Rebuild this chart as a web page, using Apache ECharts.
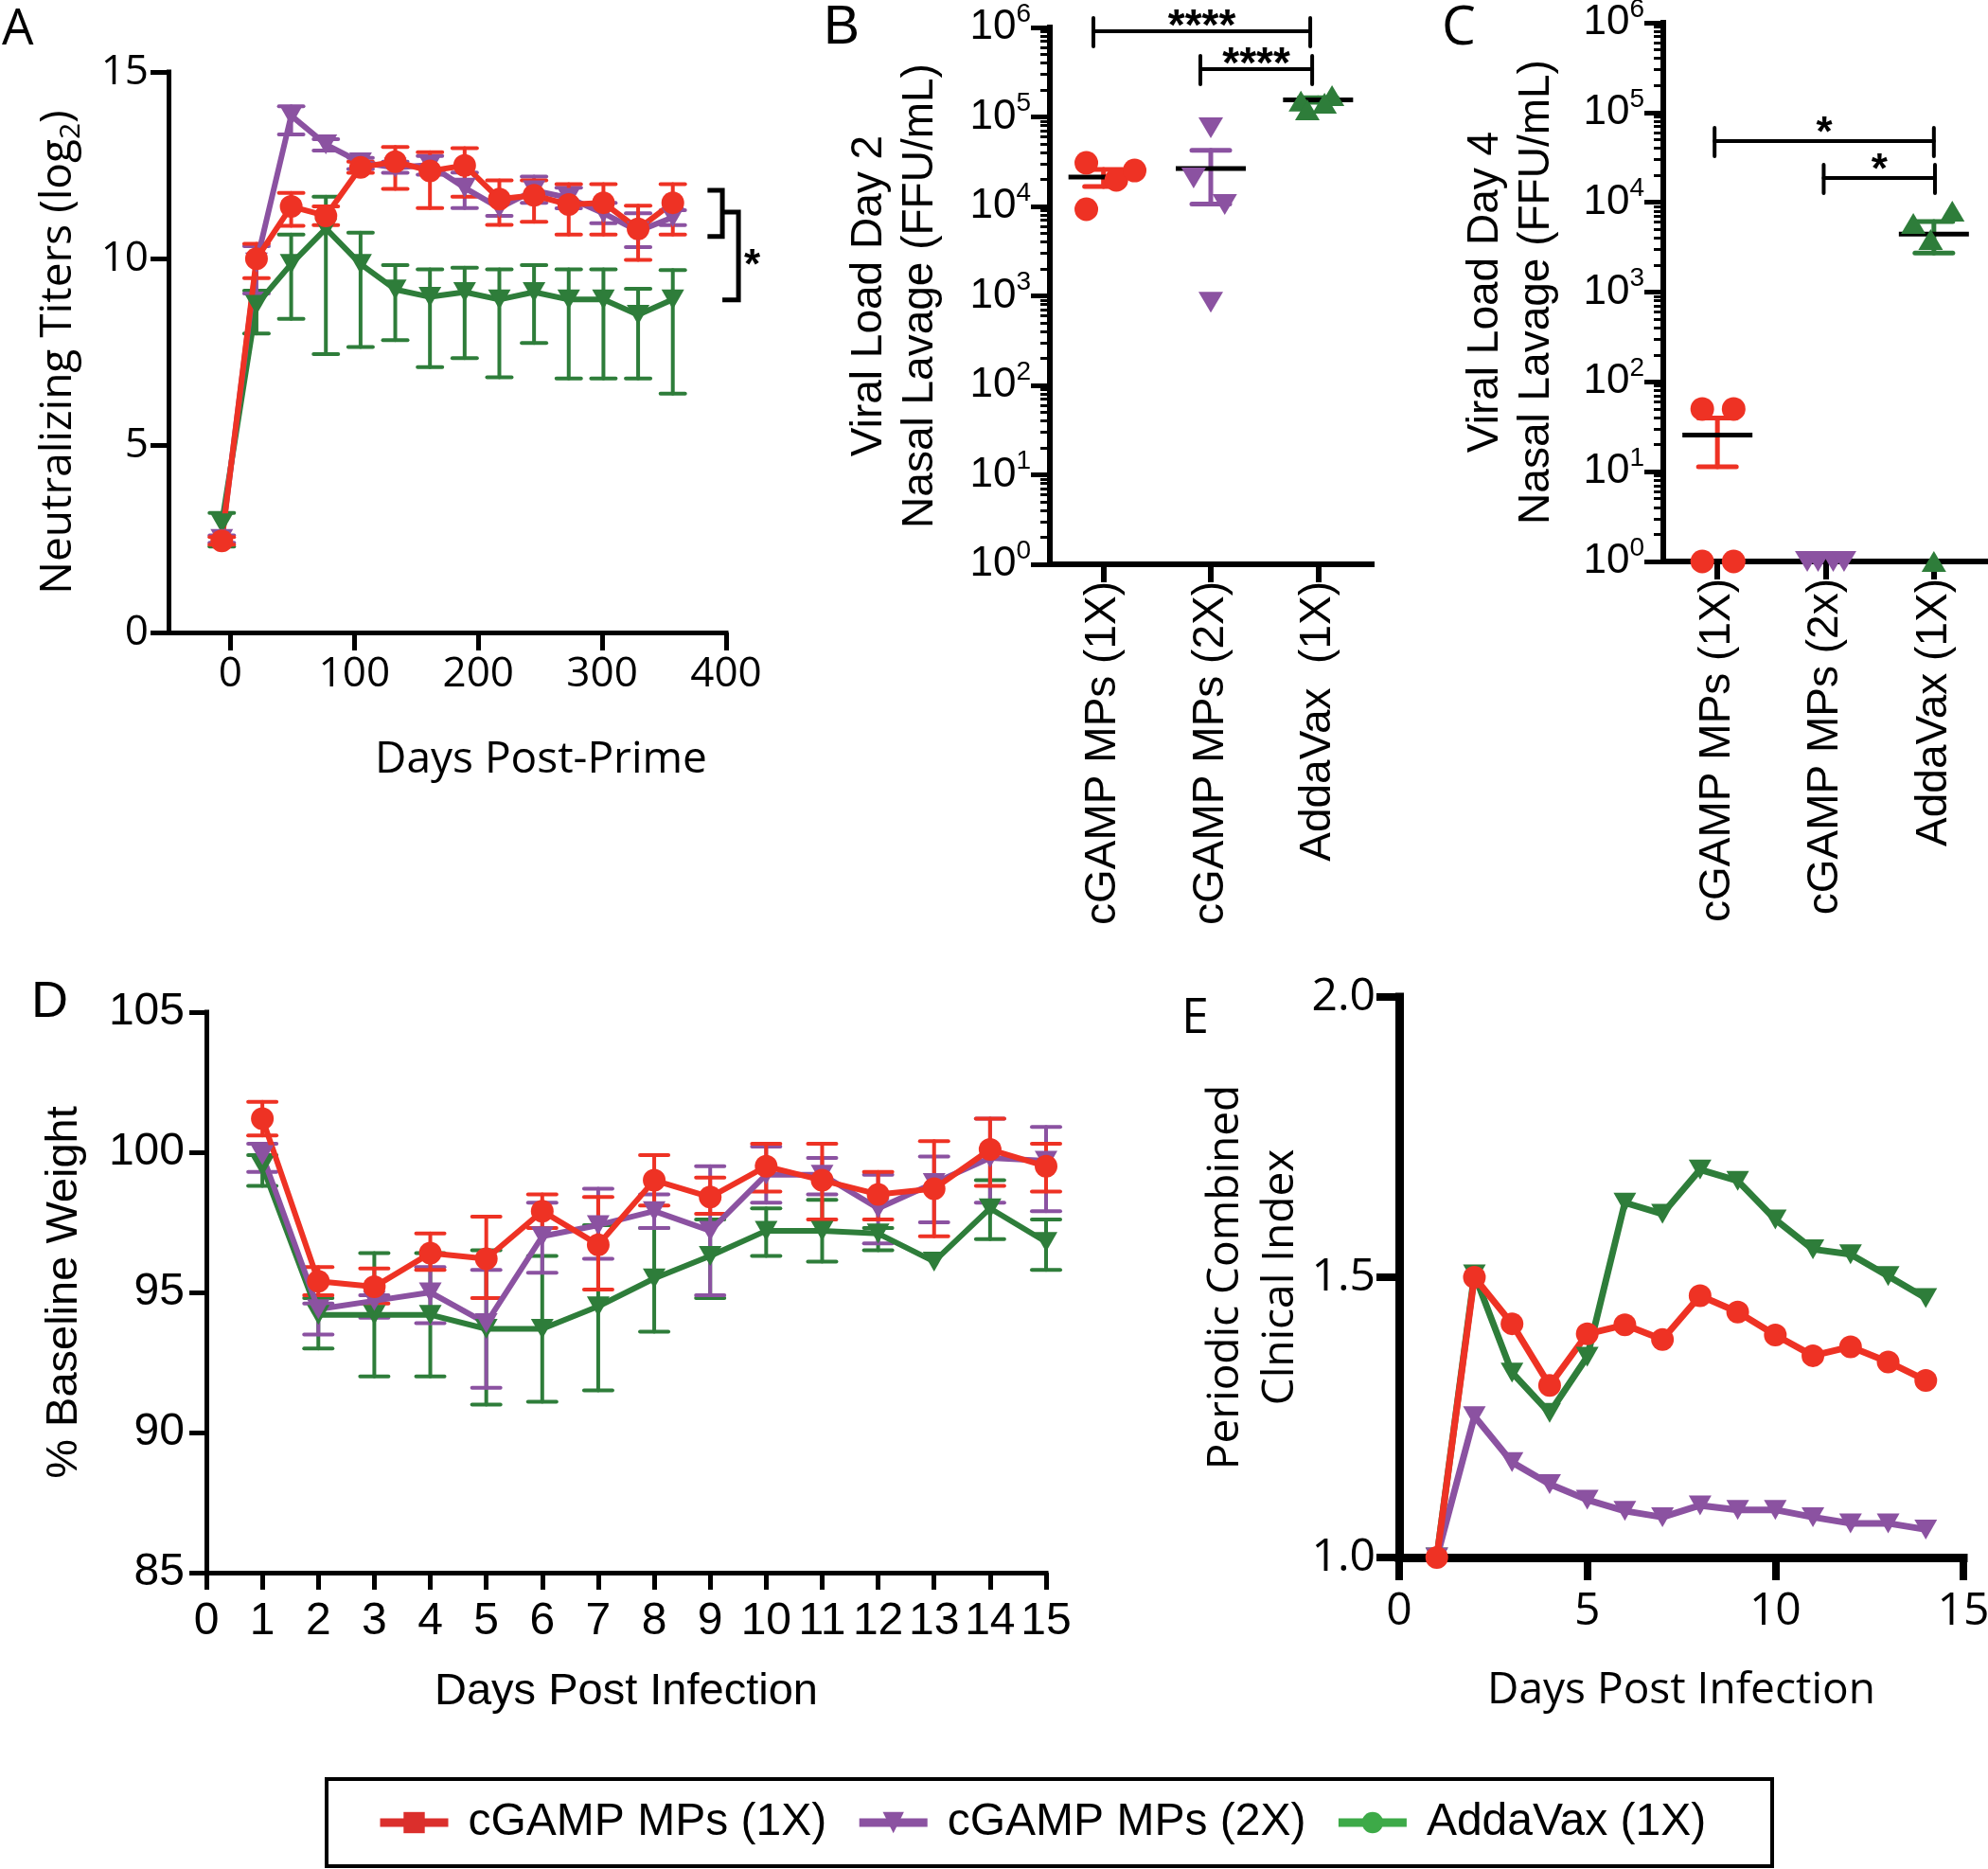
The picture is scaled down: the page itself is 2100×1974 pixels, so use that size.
<!DOCTYPE html>
<html>
<head>
<meta charset="utf-8">
<script src="https://cdn.jsdelivr.net/npm/echarts@6/dist/echarts.min.js"></script>
<style>
html, body { margin: 0; padding: 0; background: #fff; }
#chart { width: 2100px; height: 1974px; }
</style>
</head>
<body>
<div id="chart"></div>
<script>
// groups / categories
const groups = ['cGAMP MPs (1X)', 'cGAMP MPs (2X)', 'AddaVax (1X)']
const catsB = ['cGAMP MPs (1X)', 'cGAMP MPs (2X)', 'AddaVax  (1X)']
const catsC = ['cGAMP MPs (1X)', 'cGAMP MPs (2x)', 'AddaVax (1X)']

// A - neutralizing titers (log2)
const daysA = [-7, 21, 49, 77, 105, 133, 161, 189, 217, 245, 273, 301, 329, 357]
const ticksA = [0, 100, 200, 300, 400]
const titer1X = [2.45, 10.0, 11.4, 11.15, 12.45, 12.6, 12.35, 12.5, 11.6, 11.7, 11.45, 11.5, 10.8, 11.5]
const titer1XHi = [2.55, 10.4, 11.76, 11.4, 12.6, 12.99, 12.85, 12.96, 12.1, 12.1, 12.0, 12.0, 11.42, 12.0]
const titer1XLo = [2.35, 9.48, 10.88, 10.9, 12.3, 11.87, 11.36, 11.66, 10.91, 10.99, 10.65, 10.65, 9.97, 10.65]
const titer2X = [2.5, 9.9, 13.83, 13.06, 12.58, 12.44, 12.51, 11.9, 11.36, 11.83, 11.63, 11.22, 10.74, 11.11]
const titer2XHi = [2.6, 10.34, 14.08, 13.2, 12.7, 12.6, 12.75, 12.31, 11.55, 12.2, 11.9, 11.5, 11.22, 11.3]
const titer2XLo = [2.4, 9.07, 13.33, 12.9, 12.4, 12.3, 12.25, 11.36, 11.15, 11.5, 11.35, 10.95, 10.31, 10.9]
const titerAV = [2.92, 8.77, 9.86, 10.81, 9.86, 9.18, 8.98, 9.11, 8.91, 9.11, 8.91, 8.91, 8.5, 8.91]
const titerAVHi = [3.2, 9.15, 10.65, 11.66, 10.7, 9.83, 9.72, 9.76, 9.72, 9.83, 9.72, 9.72, 9.2, 9.7]
const titerAVLo = [2.3, 8.0, 8.39, 7.45, 7.64, 7.82, 7.1, 7.34, 6.83, 7.75, 6.8, 6.8, 6.8, 6.39]
const bracketA = [[385, 397, 11.83, 10.6], [397, 410, 11.25, 8.9]]
const starA = [[421, 9.99]]

// B - viral load day 2
const loadB1X = [30700, 9300, 19800, 25200]
const jitB1X = [-0.16, -0.16, 0.12, 0.29]
const loadB2X = [75500, 20800, 10500, 850]
const jitB2X = [0, -0.16, 0.13, 0]
const loadBAV = [150000, 173000, 120000, 142000]
const jitBAV = [-0.16, 0.13, -0.1, 0.06]
const meanB = [21250, 26500, 155000]
const semB = [4560, 15900, 9000]
const sigB = [[0.906, 2.927, 907000], [1.903, 2.945, 342000]]
const sigBText = ['****', '****']

// C - viral load day 4
const loadC1X = [50, 50, 1, 1]
const jitC1X = [-0.14, 0.15, -0.14, 0.15]
const loadC2X = [1, 1, 1, 1]
const jitC2X = [-0.17, -0.07, 0.07, 0.17]
const loadCAV = [5820, 7980, 3850, 1]
const jitCAV = [-0.19, 0.17, -0.03, 0]
const meanC = [25.5, 1, 4413]
const semC = [14.15, 0, 1695]
const sigC = [[0.974, 3.0, 48100], [1.982, 3.01, 18660]]
const sigCText = ['*', '*']

// D - % baseline weight
const daysD = [1, 2, 3, 4, 5, 6, 7, 8, 9, 10, 11, 12, 13, 14, 15]
const weight1X = [101.2, 95.4, 95.2, 96.4, 96.2, 97.9, 96.7, 99.0, 98.4, 99.5, 99.0, 98.5, 98.7, 100.1, 99.5]
const weight1XHi = [101.8, 95.9, 95.85, 97.1, 97.7, 98.5, 98.4, 99.9, 99.1, 100.3, 100.3, 99.3, 100.4, 101.2, 100.3]
const weight1XLo = [100.6, 94.9, 94.6, 95.8, 94.8, 97.3, 95.1, 98.1, 97.8, 98.6, 97.6, 97.6, 97.0, 98.8, 98.6]
const weight2X = [99.9, 94.4, 94.7, 95.0, 93.9, 97.0, 97.4, 97.9, 97.2, 99.2, 99.2, 98.0, 98.9, 99.8, 99.7]
const weight2XHi = [100.3, 94.6, 94.9, 95.9, 95.8, 98.2, 98.7, 98.5, 99.5, 100.2, 99.8, 99.2, 99.85, 101.2, 100.9]
const weight2XLo = [99.3, 93.5, 94.1, 93.9, 91.6, 95.7, 96.2, 97.3, 94.9, 98.2, 98.5, 96.75, 97.5, 98.2, 97.9]
const weightAV = [99.5, 94.2, 94.2, 94.2, 93.7, 93.7, 94.5, 95.5, 96.3, 97.2, 97.2, 97.1, 96.1, 98.0, 96.8]
const weightAVHi = [99.9, 94.8, 96.4, 96.4, 96.5, 96.3, 97.4, 97.3, 97.6, 98.0, 98.3, 97.3, 96.1, 99.0, 97.6]
const weightAVLo = [98.8, 93.0, 92.0, 92.0, 91.0, 91.1, 91.5, 93.6, 94.8, 96.3, 96.1, 96.5, 96.1, 96.9, 95.8]

// E - periodic combined clinical index
const daysE = [1, 2, 3, 4, 5, 6, 7, 8, 9, 10, 11, 12, 13, 14]
const index1X = [1.0, 1.5, 1.417, 1.307, 1.399, 1.415, 1.389, 1.467, 1.438, 1.397, 1.36, 1.376, 1.349, 1.316]
const index2X = [1.0, 1.252, 1.17, 1.131, 1.103, 1.083, 1.072, 1.093, 1.085, 1.085, 1.072, 1.061, 1.061, 1.05]
const indexAV = [1.0, 1.505, 1.33, 1.258, 1.358, 1.633, 1.613, 1.692, 1.672, 1.603, 1.55, 1.541, 1.502, 1.463]

const RED = '#EE3224'
const PURPLE = '#8B52A1'
const GREEN = '#2E7D3A'
const SANS = 'Arial, "Liberation Sans", Helvetica, sans-serif'
const HUM = '"Open Sans", Arial, sans-serif'

const pairs = (xs, ys) => xs.map((x, i) => [x, ys[i]])
const bars = (xs, lo, hi) => xs.map((x, i) => [x, lo[i], hi[i]])
const points = (g, vals, jit) => vals.map((v, i) => [g + jit[i], v])

// error bar with caps, in series colour
function errRender(cap, width) {
    return function (params, api) {
        const x = api.value(0), lo = api.value(1), hi = api.value(2)
        if (lo === hi) return
        const a = api.coord([x, lo]), b = api.coord([x, hi])
        const style = { stroke: api.visual('color'), lineWidth: width, lineCap: 'round' }
        return {
            type: 'group',
            children: [
                { type: 'line', shape: { x1: a[0], y1: a[1], x2: b[0], y2: b[1] }, style },
                { type: 'line', shape: { x1: a[0] - cap, y1: a[1], x2: a[0] + cap, y2: a[1] }, style },
                { type: 'line', shape: { x1: b[0] - cap, y1: b[1], x2: b[0] + cap, y2: b[1] }, style },
            ],
        }
    }
}

// mean line (black) with SEM bar in group colour
function meanRender(colors) {
    return function (params, api) {
        const x = api.value(0), m = api.value(1), lo = api.value(2), hi = api.value(3)
        const pm = api.coord([x, m]), pl = api.coord([x, lo]), ph = api.coord([x, hi])
        const es = { stroke: colors[params.dataIndex], lineWidth: 5, lineCap: 'round' }
        const children = []
        if (hi > lo) {
            children.push({ type: 'line', shape: { x1: pl[0], y1: pl[1], x2: ph[0], y2: ph[1] }, style: es })
            children.push({ type: 'line', shape: { x1: pl[0] - 20, y1: pl[1], x2: pl[0] + 20, y2: pl[1] }, style: es })
            children.push({ type: 'line', shape: { x1: ph[0] - 20, y1: ph[1], x2: ph[0] + 20, y2: ph[1] }, style: es })
        }
        children.push({
            type: 'line',
            shape: { x1: pm[0] - 37, y1: pm[1], x2: pm[0] + 37, y2: pm[1] },
            style: { stroke: '#000', lineWidth: 5 },
        })
        return { type: 'group', children }
    }
}

// significance bar |----| with stars above
function sigRender(labels, fontSize, lift) {
    return function (params, api) {
        const y = api.value(2)
        const a = api.coord([api.value(0), y]), b = api.coord([api.value(1), y])
        const st = { stroke: '#000', lineWidth: 4, lineCap: 'round' }
        return {
            type: 'group',
            children: [
                { type: 'line', shape: { x1: a[0], y1: a[1], x2: b[0], y2: b[1] }, style: st },
                { type: 'line', shape: { x1: a[0], y1: a[1] - 14, x2: a[0], y2: a[1] + 16 }, style: st },
                { type: 'line', shape: { x1: b[0], y1: b[1] - 14, x2: b[0], y2: b[1] + 16 }, style: st },
                {
                    type: 'text', x: (a[0] + b[0]) / 2, y: a[1] - lift,
                    style: {
                        text: labels[params.dataIndex], fontSize, fontWeight: 'bold', fontFamily: SANS,
                        fill: '#000', align: 'center', verticalAlign: 'middle',
                    },
                },
            ],
        }
    }
}

// "]" bracket for panel A
function bracketRender(params, api) {
    const x1 = api.value(0), x2 = api.value(1)
    const p1 = api.coord([x1, api.value(2)]), p2 = api.coord([x2, api.value(2)])
    const p3 = api.coord([x2, api.value(3)]), p4 = api.coord([x1, api.value(3)])
    return {
        type: 'polyline',
        shape: { points: [p1, p2, p3, p4] },
        style: { stroke: '#000', lineWidth: 5, fill: null },
    }
}

function starRender(params, api) {
    const p = api.coord([api.value(0), api.value(1)])
    return {
        type: 'text', x: p[0], y: p[1] + 8,
        style: { text: '*', fontSize: 44, fontWeight: 'bold', fontFamily: SANS, fill: '#000', align: 'center', verticalAlign: 'middle' },
    }
}

const axisLine = (w) => ({ show: true, onZero: false, lineStyle: { color: '#000', width: w, cap: 'square' } })
const axisTick = (len, w) => ({ show: true, inside: false, length: len, lineStyle: { color: '#000', width: w } })
const noSplit = { show: false }

const logLabel = {
    margin: 20,
    color: '#000',
    formatter: (v) => '{b|10}{s|' + Math.round(Math.log10(v)) + '}',
    rich: {
        b: { fontSize: 44, fontFamily: SANS, lineHeight: 56, color: '#000' },
        s: { fontSize: 28, fontFamily: SANS, lineHeight: 28, verticalAlign: 'top', color: '#000' },
    },
}

const xAxis = [
    {
        gridIndex: 0, type: 'value', min: -50, max: 400,
        axisLine: axisLine(5),
        axisTick: Object.assign(axisTick(19, 5), { customValues: ticksA }),
        axisLabel: { customValues: ticksA, margin: 22, fontSize: 44, fontFamily: HUM, color: '#000' },
        splitLine: noSplit,
        name: 'Days Post-Prime', nameLocation: 'middle', nameGap: 112,
        nameTextStyle: { fontSize: 46, fontFamily: HUM, color: '#000', padding: [0, 0, 0, 198] },
    },
    {
        gridIndex: 1, type: 'category', data: catsB,
        axisLine: axisLine(6),
        axisTick: Object.assign(axisTick(19, 6), { alignWithLabel: true }),
        axisLabel: { rotate: 90, interval: 0, margin: 18, fontSize: 46, fontFamily: SANS, color: '#000' },
        splitLine: noSplit,
    },
    { gridIndex: 1, type: 'value', min: 0.5, max: 3.5, show: false },
    {
        gridIndex: 2, type: 'category', data: catsC,
        axisLine: axisLine(6),
        axisTick: Object.assign(axisTick(19, 6), { alignWithLabel: true }),
        axisLabel: { rotate: 90, interval: 0, margin: 18, fontSize: 46, fontFamily: SANS, color: '#000' },
        splitLine: noSplit,
    },
    { gridIndex: 2, type: 'value', min: 0.5, max: 3.5, show: false },
    {
        gridIndex: 3, type: 'value', min: 0, max: 15, interval: 1,
        axisLine: axisLine(5), axisTick: axisTick(18, 5),
        axisLabel: { margin: 28, fontSize: 48, fontFamily: SANS, color: '#000' },
        splitLine: noSplit,
        name: 'Days Post Infection', nameLocation: 'middle', nameGap: 103,
        nameTextStyle: { fontSize: 47, fontFamily: SANS, color: '#000' },
    },
    {
        gridIndex: 4, type: 'value', min: 0, max: 15, interval: 5,
        axisLine: axisLine(9), axisTick: axisTick(24, 8),
        axisLabel: { margin: 33, fontSize: 48, fontFamily: HUM, color: '#000' },
        splitLine: noSplit,
        name: 'Days Post Infection', nameLocation: 'middle', nameGap: 118,
        nameTextStyle: { fontSize: 46, fontFamily: HUM, color: '#000' },
    },
]

const logY = (grid, title, gap, lh) => ({
    gridIndex: grid, type: 'log', logBase: 10, min: 1, max: 1e6,
    axisLine: axisLine(6), axisTick: axisTick(20, 5),
    minorTick: { show: true, splitNumber: 9, length: 10, lineStyle: { color: '#000', width: 3 } },
    axisLabel: logLabel,
    splitLine: noSplit, minorSplitLine: noSplit,
    name: title, nameLocation: 'middle', nameGap: gap,
    nameTextStyle: { fontSize: 46, fontFamily: SANS, lineHeight: lh, color: '#000' },
})

const yAxis = [
    {
        gridIndex: 0, type: 'value', min: 0, max: 15, interval: 5,
        axisLine: axisLine(5), axisTick: axisTick(19, 5),
        axisLabel: { margin: 21, fontSize: 44, fontFamily: HUM, color: '#000' },
        splitLine: noSplit,
        name: 'Neutralizing Titers (log{sub|2})', nameLocation: 'middle', nameGap: 88,
        nameTextStyle: {
            fontSize: 46, fontFamily: HUM, lineHeight: 56, color: '#000',
            rich: { sub: { fontSize: 30, fontFamily: HUM, lineHeight: 30, verticalAlign: 'bottom', color: '#000' } },
        },
    },
    logY(1, 'Viral Load Day 2\nNasal Lavage (FFU/mL)', 110, 54),
    logY(2, 'Viral Load Day 4\nNasal Lavage (FFU/mL)', 107, 54),
    {
        gridIndex: 3, type: 'value', min: 85, max: 105, interval: 5,
        axisLine: axisLine(5), axisTick: axisTick(18, 5),
        axisLabel: { margin: 23, fontSize: 48, fontFamily: SANS, color: '#000' },
        splitLine: noSplit,
        name: '% Baseline Weight', nameLocation: 'middle', nameGap: 126,
        nameTextStyle: { fontSize: 47, fontFamily: SANS, color: '#000' },
    },
    {
        gridIndex: 4, type: 'value', min: 1, max: 2, interval: 0.5,
        axisLine: axisLine(9), axisTick: axisTick(24, 8),
        axisLabel: { margin: 25, fontSize: 48, fontFamily: HUM, color: '#000', formatter: (v) => v.toFixed(1) },
        splitLine: noSplit,
        name: 'Periodic Combined\nClnical Index', nameLocation: 'middle', nameGap: 96,
        nameTextStyle: { fontSize: 46, fontFamily: HUM, lineHeight: 58, color: '#000' },
    },
]

function lineSeries(ax, xs, ys, color, kind, width) {
    const tri = kind === 'tri'
    return {
        type: 'line', xAxisIndex: ax, yAxisIndex: ax, data: pairs(xs, ys),
        symbol: tri ? 'triangle' : 'circle', symbolRotate: tri ? 180 : 0,
        symbolSize: tri ? [24, 21] : 24, showAllSymbol: true,
        itemStyle: { color }, lineStyle: { color, width },
        silent: true,
    }
}
function errSeries(ax, xs, lo, hi, color, cap) {
    return {
        type: 'custom', xAxisIndex: ax, yAxisIndex: ax, data: bars(xs, lo, hi),
        encode: { x: 0, y: [1, 2] }, itemStyle: { color }, renderItem: errRender(cap, 4), silent: true,
    }
}
function dotSeries(xAx, yAx, g, vals, jit, color, kind) {
    const tri = kind !== 'circle'
    return {
        type: 'scatter', xAxisIndex: xAx, yAxisIndex: yAx, data: points(g, vals, jit),
        symbol: tri ? 'triangle' : 'circle', symbolRotate: kind === 'down' ? 180 : 0,
        symbolSize: tri ? [26, 22] : 25, itemStyle: { color, opacity: 1 }, silent: true,
    }
}

const series = [
    // legend entries
    { type: 'line', name: groups[0], xAxisIndex: 0, yAxisIndex: 0, data: [], symbol: 'rect', itemStyle: { color: '#DB2F2C' }, lineStyle: { color: '#DB2F2C', width: 9 } },
    { type: 'line', name: groups[1], xAxisIndex: 0, yAxisIndex: 0, data: [], symbol: 'triangle', symbolRotate: 180, itemStyle: { color: PURPLE }, lineStyle: { color: PURPLE, width: 9 } },
    { type: 'line', name: groups[2], xAxisIndex: 0, yAxisIndex: 0, data: [], symbol: 'circle', itemStyle: { color: '#3DAA48' }, lineStyle: { color: '#3DAA48', width: 9 } },

    // A
    errSeries(0, daysA, titerAVLo, titerAVHi, GREEN, 13),
    lineSeries(0, daysA, titerAV, GREEN, 'tri', 6),
    errSeries(0, daysA, titer2XLo, titer2XHi, PURPLE, 13),
    lineSeries(0, daysA, titer2X, PURPLE, 'tri', 6),
    errSeries(0, daysA, titer1XLo, titer1XHi, RED, 13),
    lineSeries(0, daysA, titer1X, RED, 'circle', 6),
    { type: 'custom', xAxisIndex: 0, yAxisIndex: 0, data: bracketA, encode: { x: [0, 1], y: [2, 3] }, renderItem: bracketRender, clip: false, silent: true },
    { type: 'custom', xAxisIndex: 0, yAxisIndex: 0, data: starA, encode: { x: 0, y: 1 }, renderItem: starRender, clip: false, silent: true },

    // B
    dotSeries(2, 1, 1, loadB1X, jitB1X, RED, 'circle'),
    dotSeries(2, 1, 2, loadB2X, jitB2X, PURPLE, 'down'),
    dotSeries(2, 1, 3, loadBAV, jitBAV, GREEN, 'up'),
    {
        type: 'custom', xAxisIndex: 2, yAxisIndex: 1,
        data: meanB.map((m, i) => [i + 1, m, m - semB[i], m + semB[i]]),
        encode: { x: 0, y: [1, 2, 3] }, renderItem: meanRender([RED, PURPLE, GREEN]), silent: true,
    },
    { type: 'custom', xAxisIndex: 2, yAxisIndex: 1, data: sigB, encode: { x: [0, 1], y: 2 }, renderItem: sigRender(sigBText, 46, 4), clip: false, silent: true },

    // C
    dotSeries(4, 2, 1, loadC1X, jitC1X, RED, 'circle'),
    dotSeries(4, 2, 2, loadC2X, jitC2X, PURPLE, 'down'),
    dotSeries(4, 2, 3, loadCAV, jitCAV, GREEN, 'up'),
    {
        type: 'custom', xAxisIndex: 4, yAxisIndex: 2,
        data: meanC.map((m, i) => [i + 1, m, m - semC[i], m + semC[i]]),
        encode: { x: 0, y: [1, 2, 3] }, renderItem: meanRender([RED, PURPLE, GREEN]), silent: true,
    },
    { type: 'custom', xAxisIndex: 4, yAxisIndex: 2, data: sigC, encode: { x: [0, 1], y: 2 }, renderItem: sigRender(sigCText, 44, 7), clip: false, silent: true },

    // D
    errSeries(5, daysD, weightAVLo, weightAVHi, GREEN, 15),
    lineSeries(5, daysD, weightAV, GREEN, 'tri', 6),
    errSeries(5, daysD, weight2XLo, weight2XHi, PURPLE, 15),
    lineSeries(5, daysD, weight2X, PURPLE, 'tri', 6),
    errSeries(5, daysD, weight1XLo, weight1XHi, RED, 15),
    lineSeries(5, daysD, weight1X, RED, 'circle', 6),

    // E
    lineSeries(6, daysE, indexAV, GREEN, 'tri', 7),
    lineSeries(6, daysE, index2X, PURPLE, 'tri', 7),
    lineSeries(6, daysE, index1X, RED, 'circle', 7),
]
// D and E series use grid-specific y axes
series.forEach((s) => {
    if (s.xAxisIndex === 5) s.yAxisIndex = 3
    if (s.xAxisIndex === 6) s.yAxisIndex = 4
})

const letter = (t, x, y, size, family) => ({
    type: 'text', x, y, silent: true,
    style: { text: t, fontSize: size, fontFamily: family, fill: '#000', verticalAlign: 'top' },
})

const chart = echarts.init(document.getElementById('chart'))
chart.setOption({
    animation: false,
    backgroundColor: '#fff',
    textStyle: { fontFamily: SANS, color: '#000' },
    grid: [
        { left: 178, top: 76, width: 589, height: 592, outerBoundsMode: 'none' },
        { left: 1109, top: 29, width: 340, height: 567, outerBoundsMode: 'none' },
        { left: 1757, top: 24, width: 343, height: 569, outerBoundsMode: 'none' },
        { left: 218, top: 1069, width: 887, height: 592, outerBoundsMode: 'none' },
        { left: 1478, top: 1053, width: 596, height: 592, outerBoundsMode: 'none' },
    ],
    xAxis,
    yAxis,
    legend: {
        data: groups, left: 392, top: 1896, itemWidth: 72, itemHeight: 28, itemGap: 30,
        selectedMode: false,
        lineStyle: { width: 9 },
        textStyle: { fontSize: 48, fontFamily: SANS, color: '#000', padding: [0, 0, 0, 16] },
    },
    graphic: [
        { type: 'rect', silent: true, shape: { x: 345, y: 1879, width: 1527, height: 92 }, style: { fill: 'none', stroke: '#000', lineWidth: 4 } },
        letter('A', 2, 5, 53, HUM),
        letter('B', 870, 2, 57, SANS),
        letter('C', 1523, 2, 57, HUM),
        letter('D', 33, 1032, 54, SANS),
        letter('E', 1248, 1050, 52, HUM),
    ],
    series,
})
</script>
</body>
</html>
